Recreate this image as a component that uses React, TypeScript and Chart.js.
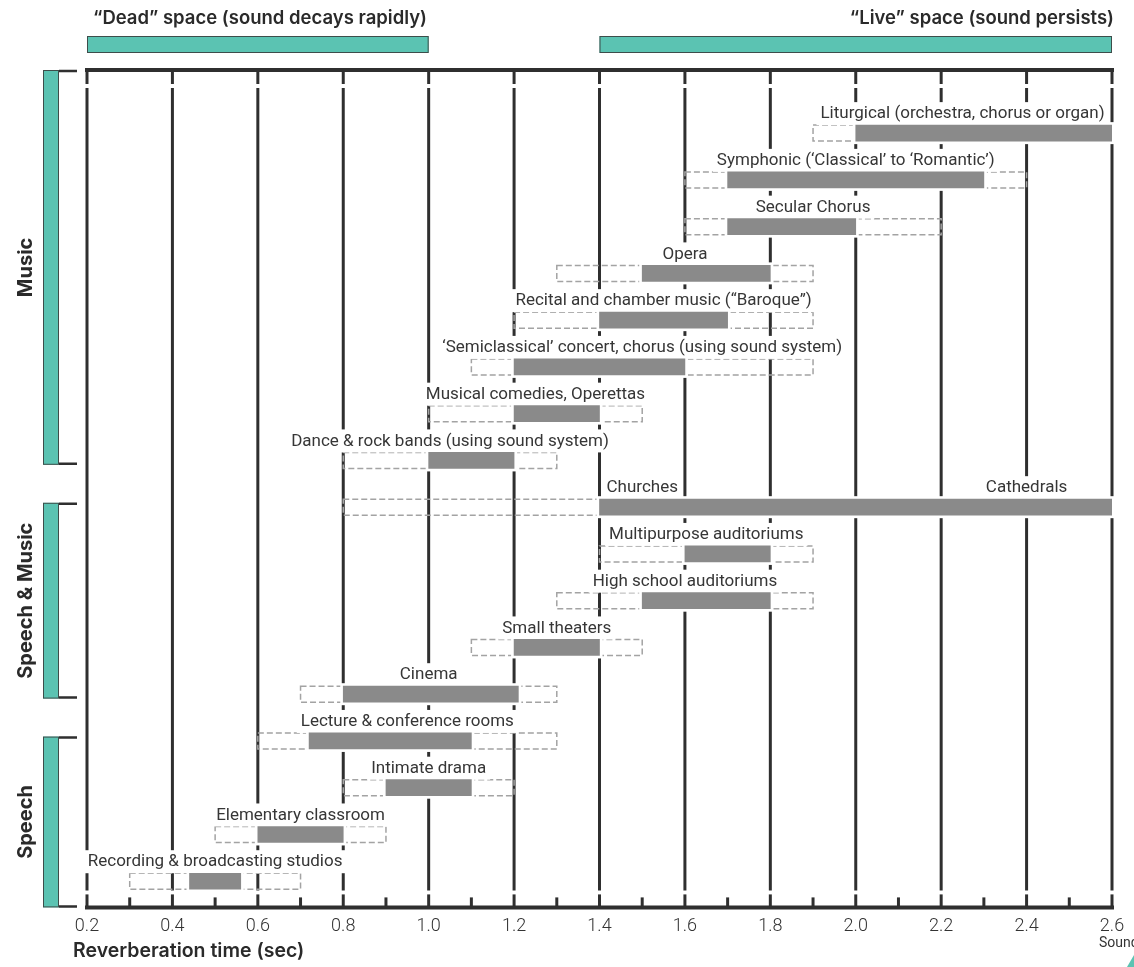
import React, { useEffect, useRef } from 'react';
import { Chart, registerables } from 'chart.js';

Chart.register(...registerables);

// ---------- data ----------
const venues = [
  'Liturgical (orchestra, chorus or organ)',
  'Symphonic (‘Classical’ to ‘Romantic’)',
  'Secular Chorus',
  'Opera',
  'Recital and chamber music (“Baroque”)',
  '‘Semiclassical’ concert, chorus (using sound system)',
  'Musical comedies, Operettas',
  'Dance & rock bands (using sound system)',
  '',
  'Multipurpose auditoriums',
  'High school auditoriums',
  'Small theaters',
  'Cinema',
  'Lecture & conference rooms',
  'Intimate drama',
  'Elementary classroom',
  'Recording & broadcasting studios',
];
const typicalStart = [2.0, 1.7, 1.7, 1.5, 1.4, 1.2, 1.2, 1.0, 1.4, 1.6, 1.5, 1.2, 0.8, 0.72, 0.9, 0.6, 0.44];
const typicalEnd = [2.6, 2.3, 2.0, 1.8, 1.7, 1.6, 1.4, 1.2, 2.6, 1.8, 1.8, 1.4, 1.21, 1.1, 1.1, 0.8, 0.56];
const rangeStart = [1.9, 1.6, 1.6, 1.3, 1.2, 1.1, 1.0, 0.8, 0.8, 1.4, 1.3, 1.1, 0.7, 0.6, 0.8, 0.5, 0.3];
const rangeEnd = [2.6, 2.4, 2.2, 1.9, 1.9, 1.9, 1.5, 1.3, 1.4, 1.9, 1.9, 1.5, 1.3, 1.3, 1.2, 0.9, 0.7];

// split labels for the churches / cathedrals row
const splitLabelRows = [8, 8];
const splitLabelTexts = ['Churches', 'Cathedrals'];
const splitLabelAt = [1.5, 2.4];

const groupNames = ['Music', 'Speech & Music', 'Speech'];
const groupSizes = [8, 5, 4];

const tickValues = [0.2, 0.4, 0.6, 0.8, 1.0, 1.2, 1.4, 1.6, 1.8, 2.0, 2.2, 2.4, 2.6];
const tickLabels = ['0.2', '0.4', '0.6', '0.8', '1.0', '1.2', '1.4', '1.6', '1.8', '2.0', '2.2', '2.4', '2.6'];
const minorTickValues = [0.3, 0.5, 0.7, 0.9, 1.1, 1.3, 1.5, 1.7, 1.9, 2.1, 2.3, 2.5];

const spaceNames = ['“Dead” space (sound decays rapidly)', '“Live” space (sound persists)'];
const spaceStart = [0.2, 1.4];
const spaceEnd = [1.0, 2.6];

const xTitle = 'Reverberation time (sec)';
const sourceText = 'Sound';

// ---------- styles ----------
const TEAL = '#5bc3b2';
const DARK = '#2f2f2f';
const LABEL_FONT = '400 17px Roboto';
const HEAD_FONT = '600 18.5px Inter';

const decorPlugin = {
  id: 'decor',
  beforeDatasetsDraw(chart: any) {
    const { ctx, chartArea: a, scales } = chart;
    const x = scales.x;
    const y = scales.y;
    ctx.save();

    // vertical grid lines with gaps near the frame
    ctx.strokeStyle = DARK;
    ctx.lineWidth = 3;
    ctx.lineCap = 'butt';
    for (const v of tickValues) {
      const px = x.getPixelForValue(v);
      const segs = [
        [a.top, a.top + 14],
        [a.top + 18, a.bottom - 17],
        [a.bottom - 13, a.bottom],
      ];
      for (const [y0, y1] of segs) {
        ctx.beginPath();
        ctx.moveTo(px, y0);
        ctx.lineTo(px, y1);
        ctx.stroke();
      }
    }
    for (const v of minorTickValues) {
      const px = x.getPixelForValue(v);
      ctx.beginPath();
      ctx.moveTo(px, a.bottom - 10);
      ctx.lineTo(px, a.bottom);
      ctx.stroke();
    }

    // frame lines top & bottom
    ctx.lineWidth = 4;
    ctx.beginPath();
    ctx.moveTo(a.left - 2, a.top);
    ctx.lineTo(a.right + 2, a.top);
    ctx.moveTo(a.left - 2, a.bottom);
    ctx.lineTo(a.right + 2, a.bottom);
    ctx.stroke();

    // dashed full ranges
    const meta = chart.getDatasetMeta(0);
    ctx.setLineDash([6, 3]);
    ctx.lineWidth = 1.5;
    ctx.strokeStyle = '#a3a3a3';
    venues.forEach((_, i) => {
      const el = meta.data[i];
      const h = el.height;
      const x0 = x.getPixelForValue(rangeStart[i]);
      const x1 = x.getPixelForValue(rangeEnd[i]);
      const cy = y.getPixelForValue(i);
      ctx.strokeRect(x0, cy - h / 2, x1 - x0, h);
    });
    ctx.setLineDash([]);

    // labels with white background
    ctx.font = LABEL_FONT;
    ctx.textAlign = 'center';
    ctx.textBaseline = 'middle';
    const drawLabel = (text: string, cx: number, cy: number) => {
      const w = ctx.measureText(text).width;
      ctx.fillStyle = '#ffffff';
      ctx.fillRect(cx - w / 2 - 4, cy - 12, w + 8, 23);
      ctx.fillStyle = '#363636';
      ctx.fillText(text, cx, cy);
    };
    venues.forEach((name, i) => {
      if (!name) return;
      const cx = (x.getPixelForValue(rangeStart[i]) + x.getPixelForValue(rangeEnd[i])) / 2;
      const cy = y.getPixelForValue(i) - 19;
      drawLabel(name, cx, cy);
    });
    splitLabelTexts.forEach((t, k) => {
      drawLabel(t, x.getPixelForValue(splitLabelAt[k]), y.getPixelForValue(splitLabelRows[k]) - 19);
    });

    // white halos round the solid bars
    ctx.fillStyle = '#ffffff';
    meta.data.forEach((el: any) => {
      const left = Math.min(el.x, el.base);
      const right = Math.max(el.x, el.base);
      ctx.fillRect(left - 3, el.y - el.height / 2 - 3, right - left + 6, el.height + 6);
    });
    ctx.restore();
  },
  afterDraw(chart: any) {
    const { ctx, chartArea: a, scales } = chart;
    const x = scales.x;
    const y = scales.y;
    ctx.save();

    // dead / live header
    spaceNames.forEach((name, k) => {
      const x0 = x.getPixelForValue(spaceStart[k]);
      const x1 = x.getPixelForValue(spaceEnd[k]);
      ctx.fillStyle = TEAL;
      ctx.fillRect(x0, 36, x1 - x0, 17);
      ctx.strokeStyle = '#3d4d4a';
      ctx.lineWidth = 1;
      ctx.strokeRect(x0 + 0.5, 36.5, x1 - x0 - 1, 16);
      ctx.fillStyle = '#2a2a2a';
      ctx.font = HEAD_FONT;
      ctx.textBaseline = 'middle';
      if (k === 0) {
        ctx.textAlign = 'left';
        ctx.fillText(name, x0 + 6, 18);
      } else {
        ctx.textAlign = 'right';
        ctx.fillText(name, x1 + 2, 18);
      }
    });

    // group brackets on the left
    let start = 0;
    groupSizes.forEach((size, g) => {
      const end = start + size - 1;
      const top = g === 0 ? a.top : (y.getPixelForValue(start - 1) + y.getPixelForValue(start)) / 2 + 19;
      const bottom =
        g === groupSizes.length - 1 ? a.bottom : (y.getPixelForValue(end) + y.getPixelForValue(end + 1)) / 2 - 19;
      ctx.fillStyle = TEAL;
      ctx.fillRect(43, top, 16, bottom - top);
      ctx.strokeStyle = '#3d4d4a';
      ctx.lineWidth = 1;
      ctx.strokeRect(43.5, top + 0.5, 15, bottom - top - 1);
      ctx.strokeStyle = DARK;
      ctx.lineWidth = 2.5;
      ctx.beginPath();
      ctx.moveTo(59, top + 1);
      ctx.lineTo(77, top + 1);
      ctx.moveTo(59, bottom - 1);
      ctx.lineTo(77, bottom - 1);
      ctx.stroke();

      ctx.save();
      ctx.translate(26, (top + bottom) / 2);
      ctx.rotate(-Math.PI / 2);
      ctx.font = '700 20px Inter';
      ctx.fillStyle = '#2a2a2a';
      ctx.textAlign = 'center';
      ctx.textBaseline = 'middle';
      ctx.fillText(groupNames[g], 0, 0);
      ctx.restore();
      start += size;
    });

    // axis title
    ctx.font = '600 19.5px Inter';
    ctx.fillStyle = '#2a2a2a';
    ctx.textAlign = 'left';
    ctx.textBaseline = 'middle';
    ctx.fillText(xTitle, 73, 951);

    // source watermark (clipped at the right edge as in the original)
    ctx.font = '400 14px Roboto';
    ctx.fillStyle = '#333';
    ctx.fillText(sourceText, 1099, 943);
    ctx.fillStyle = TEAL;
    ctx.beginPath();
    ctx.moveTo(1134, 955);
    ctx.lineTo(1134, 967);
    ctx.lineTo(1127, 967);
    ctx.closePath();
    ctx.fill();
    ctx.restore();
  },
};

export default function App() {
  const ref = useRef<HTMLCanvasElement | null>(null);
  useEffect(() => {
    if (!ref.current) return;
    const chart = new Chart(ref.current, {
      type: 'bar',
      data: {
        datasets: [
          {
            data: venues.map((_, i) => ({ y: i, x: [typicalStart[i], typicalEnd[i]] })) as any,
            backgroundColor: '#8a8a8a',
            borderWidth: 0,
            barThickness: 16,
          },
        ],
      },
      options: {
        indexAxis: 'y',
        responsive: false,
        animation: false,
        layout: { padding: { left: 87, right: 22, top: 70, bottom: 22 } },
        plugins: { legend: { display: false }, tooltip: { enabled: false } },
        scales: {
          x: {
            type: 'linear',
            position: 'bottom',
            min: 0.2,
            max: 2.6,
            afterBuildTicks: (s: any) => {
              s.ticks = tickValues.map((v) => ({ value: v }));
            },
            grid: { display: false, drawTicks: false },
            border: { display: false },
            ticks: {
              autoSkip: false,
              maxRotation: 0,
              padding: 8,
              color: '#333',
              font: { family: 'Roboto', size: 18, weight: 300 as any },
              callback: (_v: any, i: number) => tickLabels[i],
            },
          },
          y: {
            type: 'linear',
            display: false,
            offset: false,
            grid: { offset: false },
            min: -1.35,
            max: 16.56,
            reverse: true,
          },
        },
      },
      plugins: [decorPlugin],
    });
    return () => chart.destroy();
  }, []);
  return (
    <div style={{ position: 'fixed', left: 0, top: 0, width: 1134, height: 967, background: '#fff' }}>
      <canvas ref={ref} width={1134} height={967} style={{ display: 'block' }} />
    </div>
  );
}
